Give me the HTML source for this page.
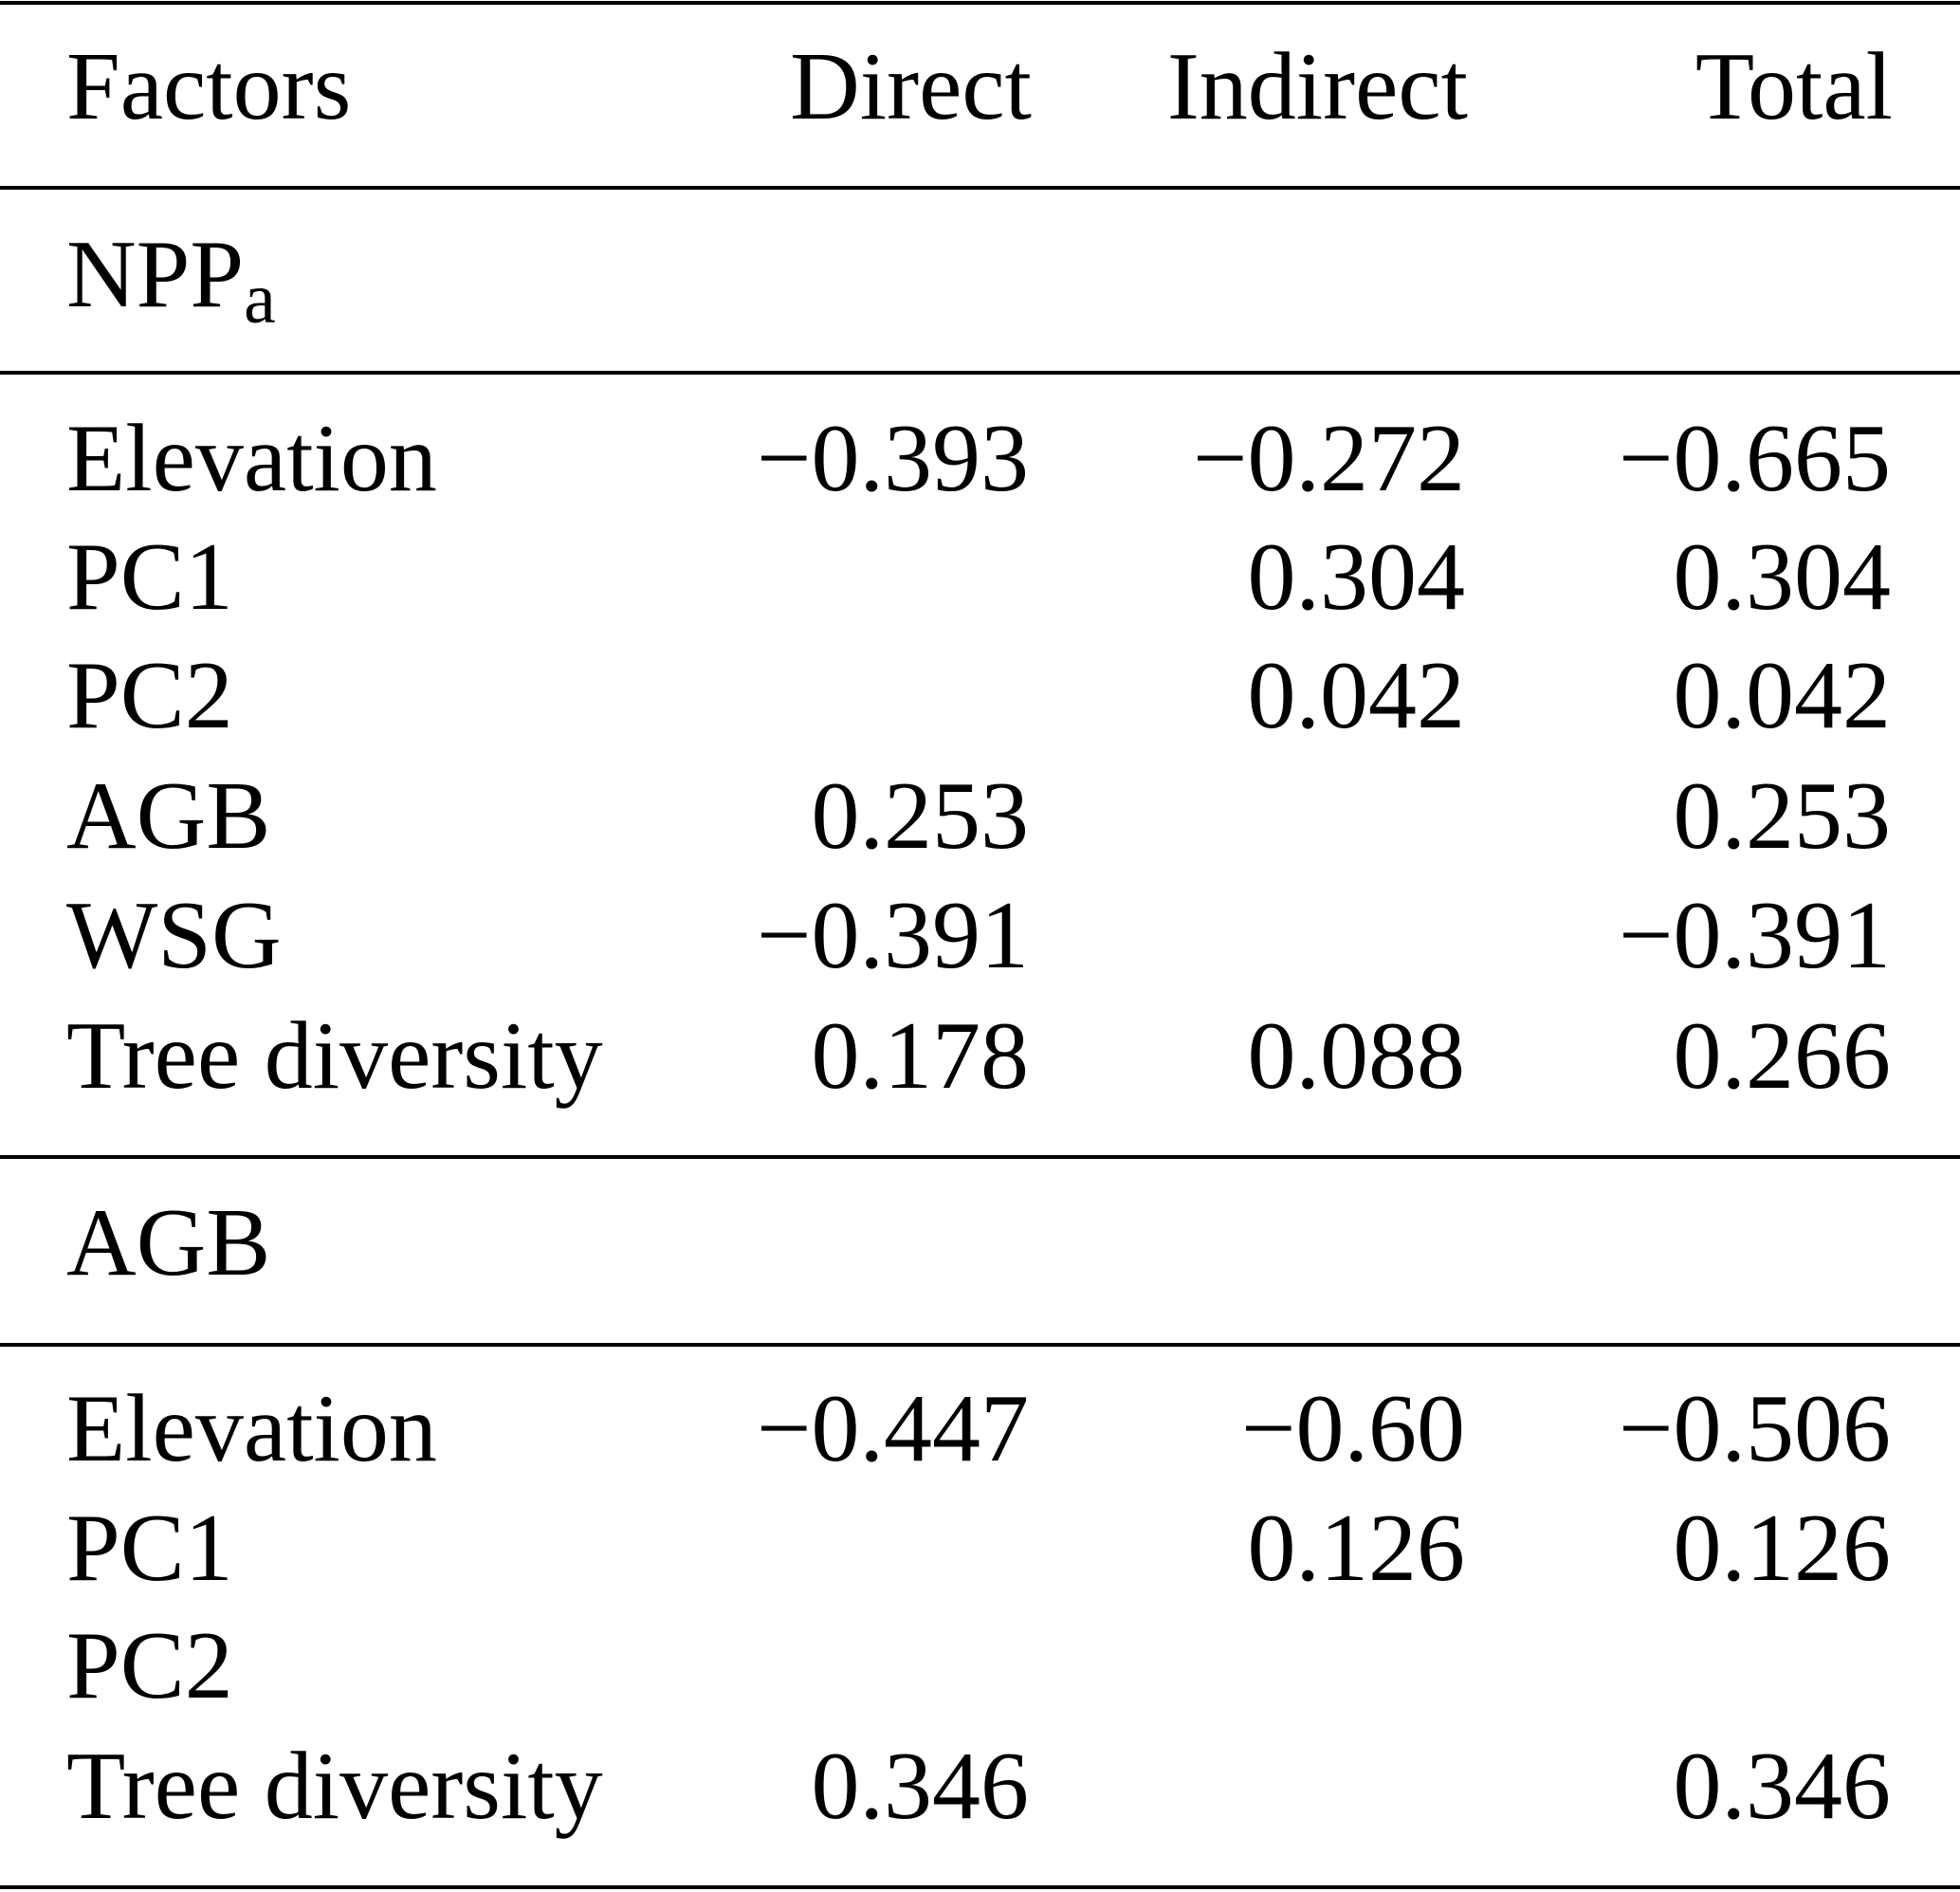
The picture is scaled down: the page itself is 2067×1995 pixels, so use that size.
<!DOCTYPE html>
<html><head><meta charset="utf-8"><style>
html,body{margin:0;padding:0;background:#fff;}
svg{display:block;}
text{font-family:"Liberation Serif",serif;font-size:102px;fill:#000;}
.r{text-anchor:end;}
</style></head><body>
<svg width="2067" height="1995" viewBox="0 0 2067 1995">
<g fill="#000">
<rect x="0" y="1" width="2067" height="4"/>
<rect x="0" y="196" width="2067" height="4"/>
<rect x="0" y="391" width="2067" height="4"/>
<rect x="0" y="1218" width="2067" height="4"/>
<rect x="0" y="1416" width="2067" height="4"/>
<rect x="0" y="1988" width="2067" height="4"/>
</g>
<text x="70" y="125">Factors</text>
<text class="r" x="1088" y="125">Direct</text>
<text class="r" x="1548" y="125">Indirect</text>
<text class="r" x="1996" y="125">Total</text>

<text x="70" y="323">NPP<tspan font-size="76" dy="17">a</tspan></text>

<text x="70" y="517">Elevation</text><text class="r" x="1085" y="517">−0.393</text><text class="r" x="1545" y="517">−0.272</text><text class="r" x="1994" y="517">−0.665</text>
<text x="70" y="642">PC1</text><text class="r" x="1545" y="642">0.304</text><text class="r" x="1994" y="642">0.304</text>
<text x="70" y="767">PC2</text><text class="r" x="1545" y="767">0.042</text><text class="r" x="1994" y="767">0.042</text>
<text x="70" y="894">AGB</text><text class="r" x="1085" y="894">0.253</text><text class="r" x="1994" y="894">0.253</text>
<text x="70" y="1020">WSG</text><text class="r" x="1085" y="1020">−0.391</text><text class="r" x="1994" y="1020">−0.391</text>
<text x="70" y="1147">Tree diversity</text><text class="r" x="1085" y="1147">0.178</text><text class="r" x="1545" y="1147">0.088</text><text class="r" x="1994" y="1147">0.266</text>

<text x="70" y="1344">AGB</text>

<text x="70" y="1540">Elevation</text><text class="r" x="1085" y="1540">−0.447</text><text class="r" x="1545" y="1540">−0.60</text><text class="r" x="1994" y="1540">−0.506</text>
<text x="70" y="1666">PC1</text><text class="r" x="1545" y="1666">0.126</text><text class="r" x="1994" y="1666">0.126</text>
<text x="70" y="1790">PC2</text>
<text x="70" y="1917">Tree diversity</text><text class="r" x="1085" y="1917">0.346</text><text class="r" x="1994" y="1917">0.346</text>
</svg>
</body></html>
